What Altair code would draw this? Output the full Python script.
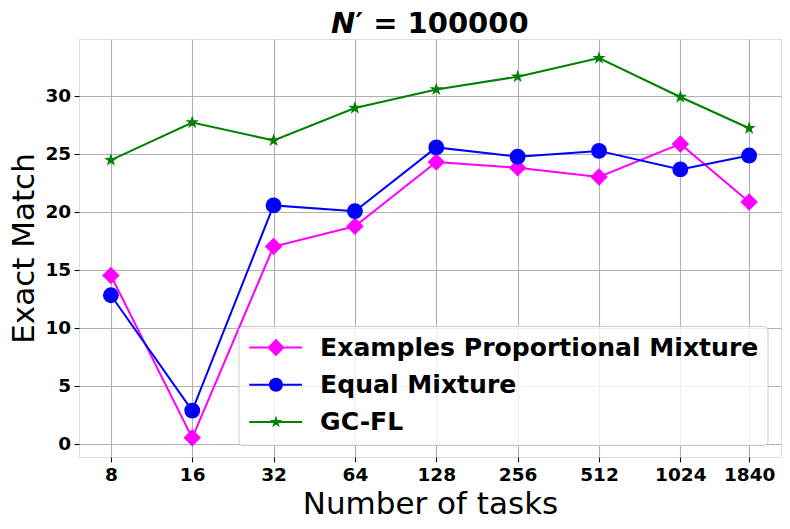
import math
import altair as alt
import pandas as pd

tasks = [8, 16, 32, 64, 128, 256, 512, 1024, 1840]
series_names = ["Examples Proportional Mixture", "Equal Mixture", "GC-FL"]
examples_prop = [14.5, 0.5, 17.0, 18.75, 24.3, 23.8, 23.0, 25.85, 20.85]
equal_mix = [12.8, 2.85, 20.55, 20.05, 25.55, 24.75, 25.25, 23.65, 24.85]
gcfl = [24.45, 27.7, 26.15, 28.95, 30.55, 31.65, 33.25, 29.9, 27.2]
y_ticks = [0, 5, 10, 15, 20, 25, 30]
colors = ["#ff00ff", "#0000ff", "#008000"]

rows = []
for name, vals in zip(series_names, [examples_prop, equal_mix, gcfl]):
    for t, v in zip(tasks, vals):
        rows.append({"tasks": t, "value": v, "series": name})
df = pd.DataFrame(rows)


def star_path(cx, R):
    pts = []
    for i in range(10):
        a = math.radians(-90 + 36 * i)
        rr = R if i % 2 == 0 else R * 0.382
        pts.append((cx + rr * math.cos(a), rr * math.sin(a)))
    return "M" + "L".join(f"{x:.3f},{y:.3f}" for x, y in pts) + "Z"


# legend glyphs: line stub + marker
x0, x1, h, cx = -1.35, 5.24, 0.125, 1.99
line_stub = f"M{x0},{-h}L{x1},{-h}L{x1},{h}L{x0},{h}Z"
d = 1.09
leg_diamond = line_stub + f"M{cx},{-d}L{cx + d},0L{cx},{d}L{cx - d},0Z"
rc = 0.875
leg_circle = line_stub + f"M{cx + rc},0A{rc},{rc} 0 1,1 {cx - rc},0A{rc},{rc} 0 1,1 {cx + rc},0Z"
leg_star = line_stub + star_path(cx, 0.8)

FONT = "DejaVu Sans"

x_enc = alt.X(
    "tasks:Q",
    scale=alt.Scale(type="log", base=2, domain=[6.097, 2414], nice=False),
    axis=alt.Axis(
        values=tasks, format="d", title="Number of tasks",
        labelFont=FONT, labelFontSize=18.5, labelFontWeight="bold", labelColor="black",
        labelPadding=4, tickSize=4.9, tickColor="black", tickWidth=1.1,
        grid=True, gridColor="#b0b0b0", gridWidth=1.1, domain=False,
        titleFont=FONT, titleFontSize=31, titleFontWeight="normal", titleColor="black",
        titleBaseline="alphabetic", titleY=56, labelFlush=False, labelOverlap=False,
    ),
)
y_enc = alt.Y(
    "value:Q",
    scale=alt.Scale(domain=[-1.15, 34.9], nice=False, zero=False),
    axis=alt.Axis(
        values=y_ticks, title="Exact Match",
        labelFont=FONT, labelFontSize=18.5, labelFontWeight="bold", labelColor="black",
        labelPadding=3.4, tickSize=4.9, tickColor="black", tickWidth=1.1,
        grid=True, gridColor="#b0b0b0", gridWidth=1.1, domain=False,
        titleFont=FONT, titleFontSize=31, titleFontWeight="normal", titleColor="black",
        titleBaseline="alphabetic", titleAngle=270, titleX=-46, titleY=209,
        titleAlign="center", labelFlush=False,
    ),
)

color_scale = alt.Scale(domain=series_names, range=colors)

lines = alt.Chart(df).mark_line(strokeWidth=2).encode(
    x=x_enc, y=y_enc,
    color=alt.Color("series:N", scale=color_scale, legend=None),
)

points = alt.Chart(df).mark_point(filled=True, opacity=1).encode(
    x=x_enc, y=y_enc,
    color=alt.Color("series:N", scale=color_scale, legend=None),
    shape=alt.Shape("series:N", scale=alt.Scale(domain=series_names,
                    range=["diamond", "circle", star_path(0, 1)]), legend=None),
    size=alt.Size("series:N", scale=alt.Scale(domain=series_names, range=[306, 196, 165]),
                  legend=None),
)

leg = alt.Legend(
    orient="none", legendX=159.5, legendY=287, title=None,
    labelFont=FONT, labelFontSize=25.1, labelFontWeight="bold", labelColor="black",
    labelLimit=0, symbolSize=256, symbolOpacity=1, symbolStrokeWidth=0,
    padding=9, rowPadding=11.2, labelOffset=47.5,
    strokeColor="#cccccc", fillColor="rgba(255,255,255,0.8)", cornerRadius=4,
)

legend_layer = alt.Chart(df).mark_point(filled=True, opacity=0).encode(
    x=x_enc, y=y_enc,
    color=alt.Color("series:N", scale=color_scale, legend=leg),
    shape=alt.Shape("series:N", scale=alt.Scale(domain=series_names,
                    range=[leg_diamond, leg_circle, leg_star]), legend=leg),
)

chart = alt.layer(lines, points, legend_layer).resolve_scale(
    color="independent", shape="independent"
).properties(
    width=702, height=418,
    title=alt.TitleParams(
        text="𝙉′ = 100000", font=FONT, fontSize=29, fontWeight="bold",
        color="black", anchor="middle", offset=0.5,
    ),
    autosize=alt.AutoSizeParams(type="none"),
    padding={"left": 71, "top": 31, "right": 1, "bottom": 63},
).configure_view(stroke="black", strokeWidth=1.1).configure(background="white")

chart.save("out.html", embed_options={"renderer": "svg", "actions": False})
